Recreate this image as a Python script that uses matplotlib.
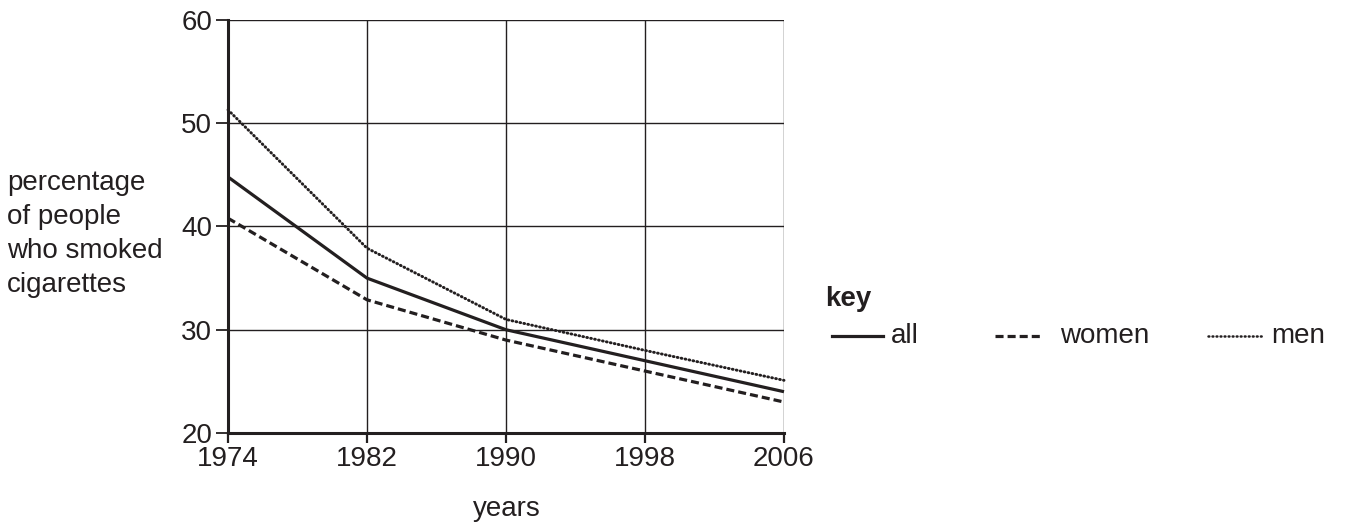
import matplotlib
matplotlib.use("Agg")
import matplotlib.pyplot as plt
from matplotlib.lines import Line2D

plt.rcParams['font.family'] = ['Liberation Sans', 'DejaVu Sans']
plt.rcParams['lines.scale_dashes'] = False

years = [1974, 1982, 1990, 1998, 2006]
all_people = [44.8, 35.0, 30.0, 27.0, 24.0]
women = [40.8, 32.9, 29.0, 26.0, 23.0]
men = [51.3, 37.9, 31.0, 28.0, 25.1]
y_ticks = [20, 30, 40, 50, 60]

INK = '#231f20'
FS = 20
DOTS = (0.6, 2.3)
DASH = (5.8, 2.9)

fig = plt.figure(figsize=(13.46, 5.26), dpi=100)
W, H = 1346, 526
ax = fig.add_axes([228 / W, 1 - 433 / H, (784 - 228) / W, (433 - 20) / H])

ax.set_xlim(years[0], years[-1])
ax.set_ylim(y_ticks[0], y_ticks[-1])
ax.set_xticks(years)
ax.set_yticks(y_ticks)
ax.grid(True, color=INK, linewidth=1.0)
ax.set_axisbelow(True)

for s in ['top', 'right']:
    ax.spines[s].set_visible(False)
ax.spines['left'].set_linewidth(2.2)
ax.spines['bottom'].set_linewidth(2.2)
ax.spines['left'].set_color(INK)
ax.spines['bottom'].set_color(INK)
ax.tick_params(axis='y', length=8.5, width=1.3, color=INK, labelsize=FS, labelcolor=INK, pad=3.0)
ax.tick_params(axis='x', length=7.2, width=1.6, color=INK, labelsize=FS, labelcolor=INK, pad=2.0)

ax.plot(years, all_people, color=INK, linewidth=2.3, solid_capstyle='butt', clip_on=False)
ax.plot(years, women, color=INK, linewidth=2.3, dashes=DASH, clip_on=False)
ax.plot(years, men, color=INK, linewidth=2.1, dashes=DOTS, dash_capstyle='round', clip_on=False)

# axis labels
fig.text(506.7 / W, 1 - 509 / H, 'years', ha='center', va='center', fontsize=FS, color=INK)
fig.text(7 / W, 1 - 234 / H, 'percentage\nof people\nwho smoked\ncigarettes',
         ha='left', va='center', fontsize=FS, color=INK, linespacing=1.4)

# key
fig.text(825 / W, 1 - 306 / H, 'key', ha='left', va='baseline', fontsize=FS, fontweight='bold', color=INK)
ly = 1 - 336 / H
fig.add_artist(Line2D([831.7 / W, 883.3 / W], [ly, ly], color=INK, linewidth=2.3, transform=fig.transFigure))
fig.text(891 / W, ly, 'all', ha='left', va='center', fontsize=FS, color=INK)
fig.add_artist(Line2D([995 / W, 1041 / W], [ly, ly], color=INK, linewidth=2.3, dashes=DASH, transform=fig.transFigure))
fig.text(1060 / W, ly, 'women', ha='left', va='center', fontsize=FS, color=INK)
fig.add_artist(Line2D([1208 / W, 1264 / W], [ly, ly], color=INK, linewidth=1.8, dashes=DOTS,
                      dash_capstyle='round', transform=fig.transFigure))
fig.text(1271 / W, ly, 'men', ha='left', va='center', fontsize=FS, color=INK)

fig.savefig('out.png', dpi=100, facecolor='white')
